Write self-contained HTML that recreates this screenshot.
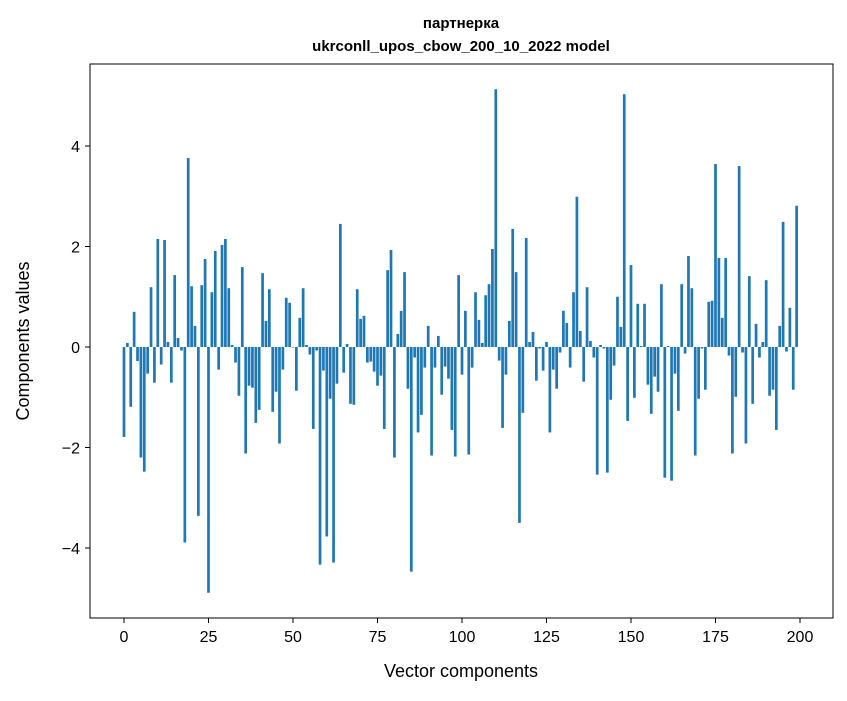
<!DOCTYPE html>
<html><head><meta charset="utf-8"><style>
body{margin:0;background:#fff;}
svg text{font-family:"Liberation Sans","DejaVu Sans",sans-serif;fill:#000;}
</style></head><body>
<svg id="chart" width="847" height="696" xmlns="http://www.w3.org/2000/svg">
<rect width="847" height="696" fill="#fff"/>
<text x="461" y="28" text-anchor="middle" font-size="15" font-weight="bold">партнерка</text>
<text x="461" y="51" text-anchor="middle" font-size="15" font-weight="bold">ukrconll_upos_cbow_200_10_2022 model</text>
<g id="bars"></g>
<g id="xticks"></g>
<g id="yticks"></g>
<rect x="90" y="64" width="743" height="554" fill="none" stroke="#000" stroke-width="1"/>
<text x="461" y="677" text-anchor="middle" font-size="18">Vector components</text>
<text transform="translate(29,341) rotate(-90)" text-anchor="middle" font-size="18">Components values</text>
</svg>
<script>
const values = [-1.79,0.08,-1.19,0.70,-0.28,-2.2,-2.48,-0.53,1.19,-0.71,2.15,-0.35,2.13,0.1,-0.71,1.43,0.18,-0.07,-3.89,3.76,
1.21,0.42,-3.36,1.23,1.75,-4.89,1.09,1.91,-0.45,2.03,2.15,1.17,0.04,-0.31,-0.97,1.59,-2.12,-0.77,-0.81,-1.51,
-1.25,1.47,0.52,1.15,-1.29,-0.89,-1.92,-0.45,0.98,0.88,-0.01,-0.87,0.58,1.17,0.04,-0.15,-1.63,-0.07,-4.33,-0.47,
-3.77,-1.03,-4.29,-0.73,2.45,-0.51,0.06,-1.13,-1.15,1.15,0.56,0.62,-0.31,-0.29,-0.49,-0.77,-0.57,-1.63,1.53,1.93,
-2.2,0.26,0.72,1.49,-0.83,-4.47,-0.21,-1.7,-1.35,-0.41,0.42,-2.16,-0.41,0.22,-0.95,-0.39,-0.63,-1.65,-2.18,1.43,
-0.55,0.72,-2.14,-0.41,1.09,0.54,0.08,1.03,1.25,1.95,5.13,-0.27,-1.61,-0.55,0.52,2.35,1.49,-3.5,-1.31,2.17,
0.1,0.3,-0.67,-0.03,-0.47,0.1,-1.7,-0.45,-0.83,-0.11,0.72,0.48,-0.41,1.09,2.99,0.32,-0.69,1.19,0.12,-0.21,
-2.54,0.04,-0.03,-2.5,-1.05,-0.37,1.0,0.4,5.03,-1.47,1.63,-1.01,0.86,0.02,0.86,-0.75,-1.33,-0.59,-0.89,1.25,
-2.6,0.02,-2.66,-0.53,-1.27,1.25,-0.13,1.81,1.17,-2.16,-1.03,-0.03,-0.85,0.9,0.92,3.64,1.77,0.58,1.77,-0.17,
-2.12,-0.99,3.6,-0.11,-1.92,1.41,-1.13,0.46,-0.21,0.1,1.33,-0.97,-0.85,-1.65,0.42,2.49,-0.09,0.78,-0.85,2.81];
const xTicks = [0,25,50,75,100,125,150,175,200];
const yTicks = [-4,-2,0,2,4];
const NS="http://www.w3.org/2000/svg";
function xs(v){return 124+(v)*3.38;}
function ys(v){return 347-v*50.25;}
const bars=document.getElementById('bars');
values.forEach((v,i)=>{
  const r=document.createElementNS(NS,'rect');
  const y0=ys(Math.max(v,0)), y1=ys(Math.min(v,0));
  r.setAttribute('x',xs(i-0.4));r.setAttribute('width',3.38*0.8);
  r.setAttribute('y',y0);r.setAttribute('height',Math.max(y1-y0,0.3));
  r.setAttribute('fill','#1f77b4');
  
  
  bars.appendChild(r);
});
const xg=document.getElementById('xticks');
xTicks.forEach(t=>{
  const l=document.createElementNS(NS,'line');
  l.setAttribute('x1',xs(t));l.setAttribute('x2',xs(t));l.setAttribute('y1',618);l.setAttribute('y2',623);l.setAttribute('stroke','#000');
  
  
  xg.appendChild(l);
  const tx=document.createElementNS(NS,'text');
  tx.setAttribute('x',xs(t));tx.setAttribute('y',642);tx.setAttribute('text-anchor','middle');tx.setAttribute('font-size','16');
  tx.textContent=t;
  
  
  xg.appendChild(tx);
});
const yg=document.getElementById('yticks');
yTicks.forEach(t=>{
  const l=document.createElementNS(NS,'line');
  l.setAttribute('x1',85);l.setAttribute('x2',90);l.setAttribute('y1',ys(t));l.setAttribute('y2',ys(t));l.setAttribute('stroke','#000');
  
  
  yg.appendChild(l);
  const tx=document.createElementNS(NS,'text');
  tx.setAttribute('x',80);tx.setAttribute('y',ys(t)+6);tx.setAttribute('text-anchor','end');tx.setAttribute('font-size','16');
  tx.textContent=(t<0?'\u2212'+(-t):String(t));
  
  
  yg.appendChild(tx);
});
</script>
</body></html>
